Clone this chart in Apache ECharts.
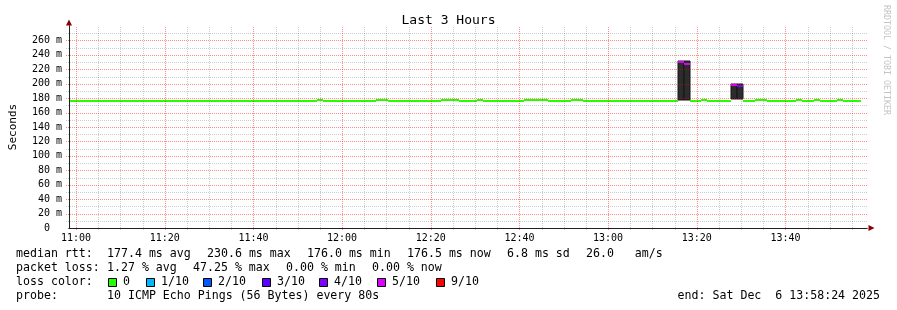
<!DOCTYPE html>
<html><head><meta charset="utf-8">
<script src="https://cdn.jsdelivr.net/npm/echarts@6/dist/echarts.min.js"></script>
<style>html,body{margin:0;padding:0;background:#fff}#c{width:897px;height:310px}</style>
</head><body><div id="c"></div>
<script>
// ---- data ----
const startTime = '10:58:24';
const stepSeconds = 80;
// median RTT (ms) per 80 s step
const medianRtt = [
  176.5,176.5,176.5,176.5,176.5,176.5,176.5,176.5,176.5,176.5,176.5,176.5,176.5,176.5,176.5,
  176.5,176.5,176.5,176.5,176.5,176.5,176.5,176.5,176.5,176.5,176.5,176.5,176.5,176.5,176.5,
  176.5,176.5,176.5,176.5,176.5,176.5,176.5,176.5,176.5,176.5,176.5,176.5,177.8,176.5,176.5,
  176.5,176.5,176.5,176.5,176.5,176.5,176.5,177.8,177.8,176.5,176.5,176.5,176.5,176.5,176.5,
  176.5,176.5,176.5,177.8,177.8,177.8,176.5,176.5,176.5,177.8,176.5,176.5,176.5,176.5,176.5,
  176.5,176.5,177.8,177.8,177.8,177.8,176.5,176.5,176.5,176.5,177.8,177.8,176.5,176.5,176.5,
  176.5,176.5,176.5,176.5,176.5,176.5,176.5,176.5,176.5,176.5,176.5,176.5,176.5,230.1,227.3,
  176.5,176.5,177.8,176.5,176.5,176.5,176.5,198.2,196.8,176.5,176.5,177.8,177.8,176.5,176.5,
  176.5,176.5,176.5,177.8,176.5,176.5,177.8,176.5,176.5,176.5,177.8,176.5,176.5,176.5,null
];
// lost pings out of 10 per step
const lossCount = [
  0,0,0,0,0,0,0,0,0,0,0,0,0,0,0,
  0,0,0,0,0,0,0,0,0,0,0,0,0,0,0,
  0,0,0,0,0,0,0,0,0,0,0,0,0,0,0,
  0,0,0,0,0,0,0,0,0,0,0,0,0,0,0,
  0,0,0,0,0,0,0,0,0,0,0,0,0,0,0,
  0,0,0,0,0,0,0,0,0,0,0,0,0,0,0,
  0,0,0,0,0,0,0,0,0,0,0,0,0,5,5,
  0,0,0,0,0,0,0,5,4,0,0,0,0,0,0,
  0,0,0,0,0,0,0,0,0,0,0,0,0,0,0
];
// visible smoke (ping spread) per step
const smokeSteps = [103, 104, 112, 113];
const smokeLow   = [177.6, 177.6, 178.4, 178.4];
const smokeHigh  = [231.8, 231.8, 199.6, 199.6];
// loss color legend
const lossLevels = [0, 1, 2, 3, 4, 5, 9];
const lossLabels = ['0', '1/10', '2/10', '3/10', '4/10', '5/10', '9/10'];
const lossColors = ['#26ff00', '#00b8ff', '#0059ff', '#5e00ff', '#7e00ff', '#dd00ff', '#ff0000'];
// axes
const yMin = 0, yMax = 280, yLabelStep = 20, yMinorStep = 10;
const xLabelStep = 20, xMinorStep = 5;   // minutes

// ---- build ----
const [hh, mm, ss] = startTime.split(':').map(Number);
const startMin = hh * 60 + mm + ss / 60;
const stepMin = stepSeconds / 60;
const totalSteps = medianRtt.length;
const endMin = startMin + totalSteps * stepMin;
const tAt = i => startMin + i * stepMin;

function colorFor(loss) {
  let c = lossColors[0];
  for (let k = 0; k < lossLevels.length; k++) if (loss >= lossLevels[k]) c = lossColors[k];
  return c;
}
const medianData = [];
medianRtt.forEach((v, i) => {
  if (v == null) return;
  medianData.push({ value: [tAt(i), tAt(i + 1), v], itemStyle: { color: colorFor(lossCount[i]) } });
});
const smokeData = smokeSteps.map((s, k) => [tAt(s), tAt(s + 1), smokeLow[k], smokeHigh[k]]);

// grid line positions (axis values)
const vMajor = [], vMinor = [], hMajor = [], hMinor = [];
for (let t = Math.ceil(startMin / xMinorStep) * xMinorStep; t < endMin; t += xMinorStep)
  (t % xLabelStep === 0 ? vMajor : vMinor).push([t]);
for (let v = yMin + yMinorStep; v < yMax; v += yMinorStep)
  (v % yLabelStep === 0 ? hMajor : hMinor).push([v]);

const MONO = 'DejaVu Sans Mono';
const pad = n => (n < 10 ? '0' : '') + n;
const majorC = 'rgba(255,0,0,0.45)';
const minorC = 'rgba(60,60,60,0.26)';

const chart = echarts.init(document.getElementById('c'), null, { renderer: 'canvas', width: 897, height: 310 });

// legend texts
const legendFont = { fontFamily: MONO, fontSize: 11.6, fill: '#000' };
const gtext = (x, y, text, extra) => Object.assign({ type: 'text', x, y, silent: true,
  style: Object.assign({ text, verticalAlign: 'middle' }, legendFont, extra || {}) });
const graphics = [
  gtext(16, 254, 'median rtt:'),
  gtext(107, 254, '177.4 ms avg'),
  gtext(207, 254, '230.6 ms max'),
  gtext(307, 254, '176.0 ms min'),
  gtext(407, 254, '176.5 ms now'),
  gtext(507, 254, '6.8 ms sd'),
  gtext(586, 254, '26.0   am/s'),
  gtext(16, 268, 'packet loss:'),
  gtext(107, 268, '1.27 % avg'),
  gtext(193, 268, '47.25 % max'),
  gtext(286, 268, '0.00 % min'),
  gtext(372, 268, '0.00 % now'),
  gtext(16, 282, 'loss color:'),
  gtext(16, 296, 'probe:'),
  gtext(107, 296, '10 ICMP Echo Pings (56 Bytes) every 80s'),
  gtext(880, 296, 'end: Sat Dec  6 13:58:24 2025', { align: 'right' }),
  { type: 'text', x: 886, y: 5, rotation: -Math.PI / 2, silent: true,
    style: { text: 'RRDTOOL / TOBI OETIKER', fontFamily: MONO, fontSize: 8.3, fill: '#c4c4c4', align: 'left', verticalAlign: 'middle' } }
];
const swatchX = [108, 146, 203, 262, 319, 377, 436];
lossLabels.forEach((lab, k) => {
  graphics.push({ type: 'rect', silent: true, shape: { x: swatchX[k] + 0.5, y: 278.5, width: 8, height: 8 },
    style: { fill: lossColors[k], stroke: '#000', lineWidth: 1 } });
  graphics.push(gtext(swatchX[k] + 15, 282, lab));
});

function vLine(color) {
  return (params, api) => {
    const top = api.coord([api.value(0), yMax]);
    const bot = api.coord([api.value(0), yMin]);
    const x = Math.round(top[0]) + 0.5;
    return { type: 'line', shape: { x1: x, y1: Math.round(bot[1]) + 2, x2: x, y2: Math.round(top[1]) },
      style: { stroke: color, lineWidth: 1, lineDash: [1, 1] } };
  };
}
function hLine(color) {
  return (params, api) => {
    const l = api.coord([startMin, api.value(0)]);
    const r = api.coord([endMin, api.value(0)]);
    const y = Math.round(l[1]) + 0.5;
    return { type: 'line', shape: { x1: Math.round(l[0]) - 3, y1: y, x2: Math.round(r[0]), y2: y },
      style: { stroke: color, lineWidth: 1, lineDash: [1, 1] } };
  };
}
const gridSeries = (name, data, enc, fn) => ({ type: 'custom', name, xAxisIndex: 0, yAxisIndex: 0, z: 3,
  silent: true, clip: false, encode: enc, data, renderItem: fn });

chart.setOption({
  animation: false,
  backgroundColor: '#fff',
  title: { text: 'Last 3 Hours', left: 'center', top: 9,
    textStyle: { fontFamily: MONO, fontSize: 13, fontWeight: 'normal', color: '#000' } },
  grid: { left: 67, right: 30, top: 26, bottom: 82, containLabel: false },
  xAxis: [{
    type: 'value', min: startMin, max: endMin, splitNumber: 9,
    minInterval: xLabelStep, maxInterval: xLabelStep, z: 4,
    axisLine: { show: true, lineStyle: { color: '#202020', width: 1 } },
    axisTick: { show: false }, minorTick: { show: false },
    axisLabel: { show: true, margin: 5, showMinLabel: false, showMaxLabel: false,
      fontFamily: MONO, fontSize: 10, color: '#000',
      formatter: v => { const h = Math.floor(v / 60 + 1e-6); const m = Math.round(v - h * 60); return pad(h) + ':' + pad(m); } },
    splitLine: { show: false }, minorSplitLine: { show: false }
  }, {
    type: 'value', min: startMin, max: endMin, position: 'bottom', z: 3.5,
    axisLine: { show: true, lineStyle: { color: '#8b0000', width: 1 }, symbol: ['none', 'triangle'], symbolSize: [6, 6], symbolOffset: [0, 4.5] },
    axisTick: { show: false }, axisLabel: { show: false }, splitLine: { show: false }
  }],
  yAxis: [{
    type: 'value', min: yMin, max: yMax, interval: yLabelStep, z: 4,
    name: 'Seconds', nameLocation: 'middle', nameRotate: 90, nameGap: 50,
    nameTextStyle: { fontFamily: MONO, fontSize: 11, color: '#000' },
    axisLine: { show: true, lineStyle: { color: '#202020', width: 1 } },
    axisTick: { show: false }, minorTick: { show: false },
    axisLabel: { show: true, margin: 7, showMaxLabel: false, fontFamily: MONO, fontSize: 10, color: '#000',
      formatter: v => (v === 0 ? '0  ' : v + ' m') },
    splitLine: { show: false }, minorSplitLine: { show: false }
  }, {
    type: 'value', min: yMin, max: yMax, position: 'left', z: 3.5,
    axisLine: { show: true, lineStyle: { color: '#8b0000', width: 1 }, symbol: ['none', 'triangle'], symbolSize: [6, 6], symbolOffset: [0, 3.5] },
    axisTick: { show: false }, axisLabel: { show: false }, splitLine: { show: false }
  }],
  series: [{
    type: 'custom', name: 'smoke', xAxisIndex: 0, yAxisIndex: 0, z: 2,
    encode: { x: [0, 1], y: [2, 3] },
    data: smokeData,
    renderItem: (params, api) => {
      const a = api.coord([api.value(0), api.value(3)]);
      const b = api.coord([api.value(1), api.value(2)]);
      const x0 = Math.round(a[0]), x1 = Math.round(b[0]);
      const y0 = Math.round(a[1]), y1 = Math.round(b[1]);
      return { type: 'rect', shape: { x: x0, y: y0, width: x1 - x0, height: y1 - y0 },
        style: { fill: '#2c2c2c', stroke: '#151515', lineWidth: 1 } };
    }
  }, {
    type: 'custom', name: 'median rtt', xAxisIndex: 0, yAxisIndex: 0, z: 2.2,
    encode: { x: [0, 1], y: 2 },
    data: medianData,
    renderItem: (params, api) => {
      const v = api.value(2);
      const a = api.coord([api.value(0), v]);
      const b = api.coord([api.value(1), v]);
      const x0 = Math.round(a[0]), x1 = Math.round(b[0]);
      return { type: 'rect', shape: { x: x0, y: Math.round(a[1]) - 1, width: x1 - x0, height: 2 },
        style: { fill: api.visual('color') } };
    }
  },
  gridSeries('vMinor', vMinor, { x: 0 }, vLine(minorC)),
  gridSeries('hMinor', hMinor, { y: 0 }, hLine(minorC)),
  gridSeries('vMajor', vMajor, { x: 0 }, vLine(majorC)),
  gridSeries('hMajor', hMajor, { y: 0 }, hLine(majorC))
  ],
  graphic: graphics
});
</script>
</body></html>
